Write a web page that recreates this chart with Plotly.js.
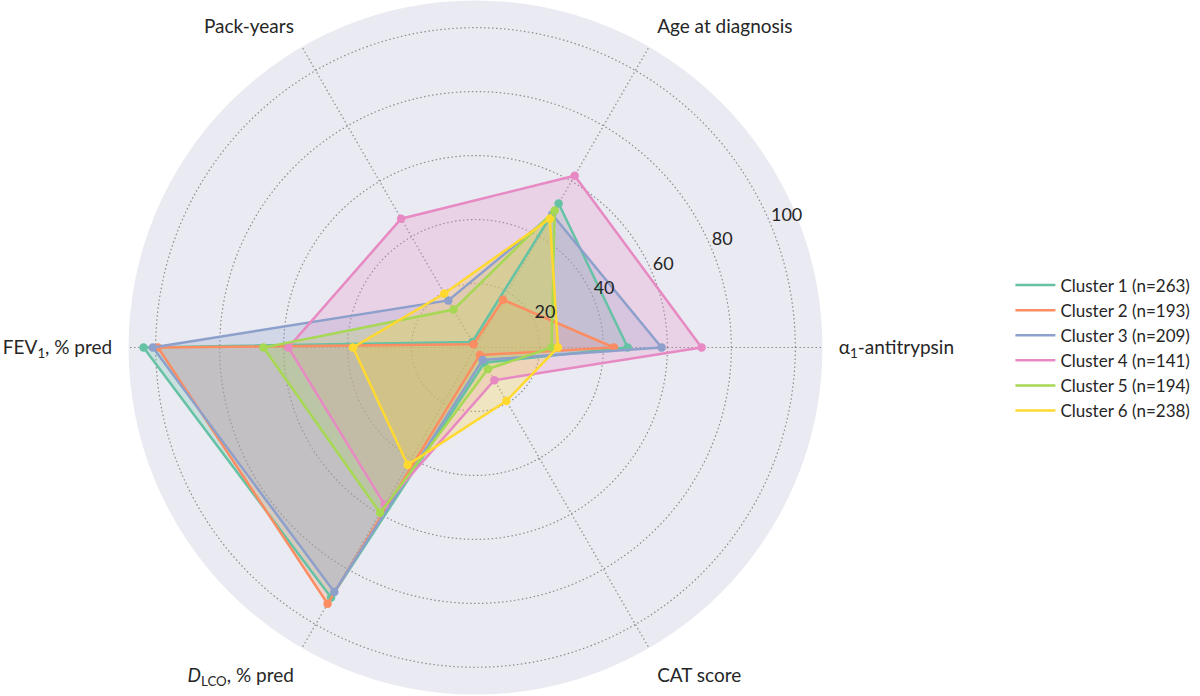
<!DOCTYPE html>
<html>
<head>
<meta charset="utf-8">
<script src="https://cdn.plot.ly/plotly-3.0.1.min.js"></script>
<style>
  html, body { margin: 0; padding: 0; background: #ffffff; }
  #chart { width: 1200px; height: 696px; }
</style>
</head>
<body>
<div id="chart"></div>
<script>
// Radar axes, counter-clockwise from the right
const variables = [
  'α<sub>1</sub>-antitrypsin',
  'Age at diagnosis',
  'Pack-years',
  'FEV<sub>1</sub>, % pred',
  '<i>D</i><sub>LCO</sub>, % pred',
  'CAT score'
];

const clusterNames = [
  'Cluster 1 (n=263)',
  'Cluster 2 (n=193)',
  'Cluster 3 (n=209)',
  'Cluster 4 (n=141)',
  'Cluster 5 (n=194)',
  'Cluster 6 (n=238)'
];

// Values per cluster, in the order of `variables`
const cluster1 = [47.6, 52.0, 2.0, 103.8, 90.3, 5.5];
const cluster2 = [43.3, 17.2, 1.2, 99.3, 92.5, 2.7];
const cluster3 = [58.2, 48.0, 17.0, 100.9, 88.3, 4.5];
const cluster4 = [70.7, 62.0, 46.5, 58.5, 56.8, 11.8];
const cluster5 = [23.8, 49.5, 13.7, 66.3, 59.7, 7.8];
const cluster6 = [25.8, 46.5, 19.5, 38.3, 42.4, 19.3];

const radialTicks = [20, 40, 60, 80, 100];
const radialTickAngle = 22.5;   // direction along which the ring values are printed
const radialMax = 108.5;

const colors = ['#66c2a5', '#fc8d62', '#8da0cb', '#e78ac3', '#a6d854', '#ffd92f'];

function hexToRgba(hex, a) {
  const n = parseInt(hex.slice(1), 16);
  return 'rgba(' + ((n >> 16) & 255) + ',' + ((n >> 8) & 255) + ',' + (n & 255) + ',' + a + ')';
}

const series = [cluster1, cluster2, cluster3, cluster4, cluster5, cluster6];
const thetaClosed = variables.concat([variables[0]]);

const traces = [];
series.forEach(function (vals, i) {
  const rClosed = vals.concat([vals[0]]);
  // shaded area
  traces.push({
    type: 'scatterpolar', r: rClosed, theta: thetaClosed,
    mode: 'none', fill: 'toself', fillcolor: hexToRgba(colors[i], 0.25),
    showlegend: false, hoverinfo: 'skip'
  });
});
series.forEach(function (vals, i) {
  const rClosed = vals.concat([vals[0]]);
  // outline (legend entry)
  traces.push({
    type: 'scatterpolar', r: rClosed, theta: thetaClosed,
    mode: 'lines', name: clusterNames[i],
    line: { color: colors[i], width: 2.5 }
  });
  // vertices
  traces.push({
    type: 'scatterpolar', r: vals, theta: variables,
    mode: 'markers', showlegend: false,
    marker: { color: colors[i], size: 8.5 }
  });
});

// Ring value labels, printed just outside each ring on a transparent overlay
traces.push({
  type: 'scatterpolar', subplot: 'polar2',
  r: radialTicks,
  theta: radialTicks.map(function () { return radialTickAngle; }),
  text: radialTicks.map(String),
  mode: 'text', textposition: 'top right',
  textfont: { size: 18, color: '#262626' },
  showlegend: false, hoverinfo: 'skip', cliponaxis: false
});

const polarDomain = { x: [0.1071, 0.6854], y: [0.0022, 0.9993] };

const layout = {
  width: 1200, height: 696,
  margin: { l: 0, r: 0, t: 0, b: 0 },
  paper_bgcolor: '#ffffff',
  font: { family: 'Lato, "Noto Sans", sans-serif', size: 18, color: '#262626' },
  showlegend: true,
  legend: {
    x: 0.842, xanchor: 'left', y: 0.5, yanchor: 'middle',
    font: { size: 17, color: '#262626' },
    tracegroupgap: 0, itemwidth: 40
  },
  polar: {
    domain: polarDomain,
    bgcolor: '#eaeaf2',
    radialaxis: {
      range: [0, radialMax],
      tickvals: radialTicks,
      angle: radialTickAngle,
      showticklabels: false,
      showline: false,
      ticks: '',
      gridcolor: '#8c8c8c',
      griddash: '1.5px,2.5px',
      gridwidth: 1.2
    },
    angularaxis: {
      type: 'category',
      direction: 'counterclockwise',
      rotation: 0,
      showline: false,
      ticks: 'outside',
      ticklen: 12,
      tickcolor: 'rgba(0,0,0,0)',
      tickfont: { size: 19, color: '#262626' },
      gridcolor: '#8c8c8c',
      griddash: '1.5px,2.5px',
      gridwidth: 1.2
    }
  },
  polar2: {
    domain: polarDomain,
    bgcolor: 'rgba(0,0,0,0)',
    radialaxis: {
      range: [0, radialMax],
      visible: false
    },
    angularaxis: {
      type: 'linear',
      direction: 'counterclockwise',
      rotation: 0,
      visible: false
    }
  }
};

Plotly.newPlot('chart', traces, layout, { displayModeBar: false, staticPlot: true });
</script>
</body>
</html>
